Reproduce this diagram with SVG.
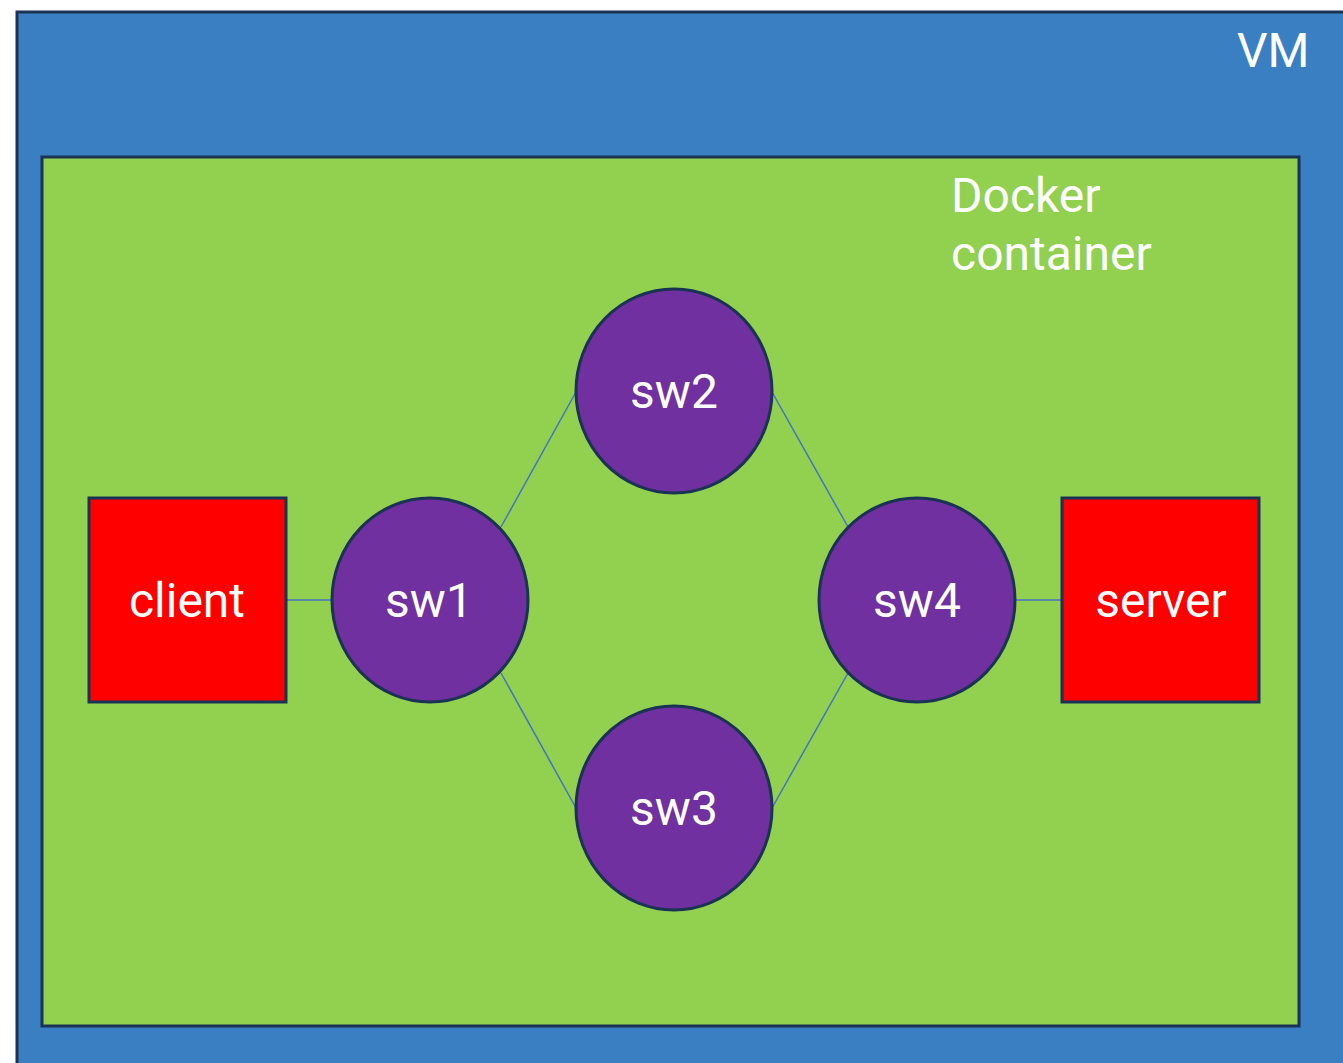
<svg xmlns="http://www.w3.org/2000/svg" width="1343" height="1063" viewBox="0 0 1343 1063">
  <style>
    .label { font-family: Roboto, "Liberation Sans", sans-serif; font-size: 48px; fill: #ffffff; }
    .mid { text-anchor: middle; }
    .switch { fill: #7030a0; stroke: #1a3354; stroke-width: 3; }
    .host { fill: #ff0000; stroke: #1a3354; stroke-width: 3; }
    .link { stroke: #4472c4; stroke-width: 1.5; fill: none; }
  </style>
  <rect width="1343" height="1063" fill="#ffffff"/>

  <!-- VM -->
  <g id="vm">
    <rect x="17" y="12" width="1340" height="1070" fill="#3b7fc3" stroke="#1a3354" stroke-width="3"/>
    <text class="label" x="1237" y="67">VM</text>
  </g>

  <!-- Docker container -->
  <g id="docker">
    <rect x="42" y="157" width="1257" height="869" fill="#92d050" stroke="#1a3354" stroke-width="3"/>
    <text class="label" x="951" y="212">Docker</text>
    <text class="label" x="951" y="270">container</text>
  </g>

  <!-- links -->
  <g id="connectors">
    <line class="link" x1="286" y1="600" x2="332" y2="600"/>
    <line class="link" x1="501" y1="527" x2="576" y2="392"/>
    <line class="link" x1="501" y1="673" x2="576" y2="808"/>
    <line class="link" x1="772" y1="392" x2="848" y2="527"/>
    <line class="link" x1="772" y1="808" x2="848" y2="673"/>
    <line class="link" x1="1016" y1="600" x2="1062" y2="600"/>
  </g>

  <g id="client">
    <rect class="host" x="89" y="498" width="197" height="204"/>
    <text class="label mid" x="187" y="617">client</text>
  </g>

  <g id="server">
    <rect class="host" x="1062" y="498" width="197" height="204"/>
    <text class="label mid" x="1161" y="617">server</text>
  </g>

  <g id="sw1">
    <ellipse class="switch" cx="430" cy="600" rx="98" ry="102"/>
    <text class="label mid" x="429" y="617">sw1</text>
  </g>

  <g id="sw2">
    <ellipse class="switch" cx="674" cy="391" rx="98" ry="102"/>
    <text class="label mid" x="674" y="408">sw2</text>
  </g>

  <g id="sw3">
    <ellipse class="switch" cx="674" cy="808" rx="98" ry="102"/>
    <text class="label mid" x="674" y="825">sw3</text>
  </g>

  <g id="sw4">
    <ellipse class="switch" cx="917" cy="600" rx="98" ry="102"/>
    <text class="label mid" x="917" y="617">sw4</text>
  </g>
</svg>
